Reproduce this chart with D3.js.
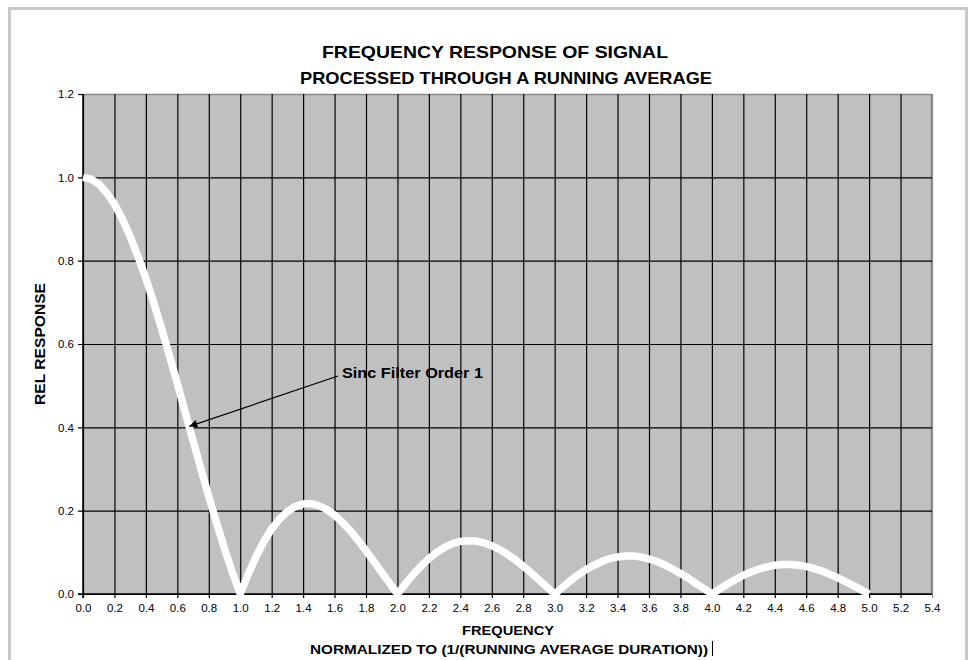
<!DOCTYPE html>
<html><head><meta charset="utf-8">
<script src="https://cdn.jsdelivr.net/npm/d3@7"></script>
<style>
html,body{margin:0;padding:0;background:#fff;}
svg{display:block;font-family:"Liberation Sans",Arial,sans-serif;}
</style></head>
<body>
<svg id="chart" width="972" height="660"></svg>
<script>
const titleLines = ["FREQUENCY RESPONSE OF SIGNAL", "PROCESSED THROUGH A RUNNING AVERAGE"];
const xTitleLines = ["FREQUENCY", "NORMALIZED TO (1/(RUNNING AVERAGE DURATION))"];
const yTitle = "REL RESPONSE";
const annotationText = "Sinc Filter Order 1";
const annotationPoint = [0.67, 0.40];
const xTicks = [0.0,0.2,0.4,0.6,0.8,1.0,1.2,1.4,1.6,1.8,2.0,2.2,2.4,2.6,2.8,3.0,3.2,3.4,3.6,3.8,4.0,4.2,4.4,4.6,4.8,5.0,5.2,5.4];
const yTicks = [0.0,0.2,0.4,0.6,0.8,1.0,1.2];
const frequency = [
 0.00,0.05,0.10,0.15,0.20,0.25,0.30,0.35,0.40,0.45,0.50,0.55,0.60,0.65,0.70,0.75,0.80,0.85,0.90,0.95,
 1.00,1.05,1.10,1.15,1.20,1.25,1.30,1.35,1.40,1.45,1.50,1.55,1.60,1.65,1.70,1.75,1.80,1.85,1.90,1.95,
 2.00,2.05,2.10,2.15,2.20,2.25,2.30,2.35,2.40,2.45,2.50,2.55,2.60,2.65,2.70,2.75,2.80,2.85,2.90,2.95,
 3.00,3.05,3.10,3.15,3.20,3.25,3.30,3.35,3.40,3.45,3.50,3.55,3.60,3.65,3.70,3.75,3.80,3.85,3.90,3.95,
 4.00,4.05,4.10,4.15,4.20,4.25,4.30,4.35,4.40,4.45,4.50,4.55,4.60,4.65,4.70,4.75,4.80,4.85,4.90,4.95,
 5.00];
const response = [
 1.000,0.996,0.984,0.963,0.936,0.900,0.858,0.810,0.757,0.699,0.637,0.572,0.505,0.436,0.368,0.300,0.234,0.170,0.109,0.052,
 0.000,0.047,0.089,0.126,0.156,0.180,0.198,0.210,0.216,0.217,0.212,0.203,0.189,0.172,0.152,0.129,0.104,0.078,0.052,0.026,
 0.000,0.024,0.047,0.067,0.085,0.100,0.112,0.121,0.126,0.128,0.127,0.123,0.116,0.107,0.095,0.082,0.067,0.051,0.034,0.017,
 0.000,0.016,0.032,0.046,0.059,0.069,0.078,0.085,0.089,0.091,0.091,0.089,0.084,0.078,0.070,0.060,0.049,0.038,0.025,0.013,
 0.000,0.012,0.024,0.035,0.045,0.053,0.060,0.065,0.069,0.071,0.071,0.069,0.066,0.061,0.055,0.047,0.039,0.030,0.020,0.010,
 0.000];

const svg = d3.select("#chart");
const M = {left:83, right:932, top:94, bottom:594};

// outer frame
svg.append("rect").attr("x",9.5).attr("y",8.5).attr("width",957).attr("height",680)
  .attr("fill","#fff").attr("stroke","#c8c8c8").attr("stroke-width",3);

const x = d3.scaleLinear().domain([0,5.4]).range([M.left,M.right]);
const y = d3.scaleLinear().domain([0,1.2]).range([M.bottom,M.top]);

// plot background
svg.append("rect").attr("x",M.left).attr("y",M.top).attr("width",M.right-M.left).attr("height",M.bottom-M.top)
  .attr("fill","#c0c0c0");

// border top/right (gray)
svg.append("path").attr("d",`M${M.left},${M.top+0.5}H${M.right-0.5}V${M.bottom}`)
  .attr("fill","none").attr("stroke","#8a8a8a").attr("stroke-width",1.5);

// vertical gridlines + ticks
const gx = svg.append("g").attr("transform",`translate(0,${M.bottom})`)
  .call(d3.axisBottom(x).tickValues(xTicks).tickFormat(d3.format(".1f"))
        .tickSizeInner(-(M.bottom-M.top)).tickSizeOuter(0).tickPadding(10));
gx.select(".domain").remove();
gx.selectAll(".tick line").attr("stroke","#000").attr("stroke-width",1.2)
  .attr("y2",-(M.bottom-M.top)).attr("y1",4);
gx.selectAll(".tick").filter(d=>d===5.4).select("line").attr("stroke","#8a8a8a");
gx.selectAll(".tick text").attr("font-size",11.5).attr("fill","#000").attr("font-family","Liberation Sans, Arial, sans-serif");

// horizontal gridlines + ticks
const gy = svg.append("g").attr("transform",`translate(${M.left},0)`)
  .call(d3.axisLeft(y).tickValues(yTicks).tickFormat(d3.format(".1f"))
        .tickSizeInner(-(M.right-M.left)).tickSizeOuter(0).tickPadding(9));
gy.select(".domain").remove();
gy.selectAll(".tick line").attr("stroke","#000").attr("stroke-width",1.2)
  .attr("x1",-5).attr("x2",M.right-M.left);
gy.selectAll(".tick").filter(d=>d===1.2).select("line").attr("x2",0);
gy.selectAll(".tick text").attr("font-size",11.5).attr("fill","#000").attr("font-family","Liberation Sans, Arial, sans-serif");

// axis lines
svg.append("line").attr("x1",M.left).attr("x2",M.left).attr("y1",M.top).attr("y2",M.bottom+4)
  .attr("stroke","#000").attr("stroke-width",1.5);
svg.append("line").attr("x1",M.left-5).attr("x2",M.right).attr("y1",M.bottom).attr("y2",M.bottom)
  .attr("stroke","#000").attr("stroke-width",1.5);

// series line
const pts = frequency.map((f,i)=>[f,response[i]]);
svg.append("path").datum(pts)
  .attr("d",d3.line().x(d=>x(d[0])).y(d=>y(d[1])))
  .attr("fill","none").attr("stroke","#fff").attr("stroke-width",7.5)
  .attr("stroke-linejoin","miter").attr("stroke-miterlimit",3).attr("stroke-linecap","butt");

// title
svg.append("text").attr("x",495).attr("y",58).attr("text-anchor","middle")
  .attr("font-size",17).attr("font-weight","bold").attr("textLength",346).attr("lengthAdjust","spacingAndGlyphs")
  .text(titleLines[0]);
svg.append("text").attr("x",506).attr("y",84).attr("text-anchor","middle")
  .attr("font-size",17).attr("font-weight","bold").attr("textLength",412).attr("lengthAdjust","spacingAndGlyphs")
  .text(titleLines[1]);

// x title
svg.append("text").attr("x",508).attr("y",635).attr("text-anchor","middle")
  .attr("font-size",13.5).attr("font-weight","bold").attr("textLength",92).attr("lengthAdjust","spacingAndGlyphs")
  .text(xTitleLines[0]);
svg.append("text").attr("x",509).attr("y",654).attr("text-anchor","middle")
  .attr("font-size",13.5).attr("font-weight","bold").attr("textLength",398).attr("lengthAdjust","spacingAndGlyphs")
  .text(xTitleLines[1]);
svg.append("line").attr("x1",712.5).attr("x2",712.5).attr("y1",641).attr("y2",656).attr("stroke","#000").attr("stroke-width",1);

// y title
svg.append("text").attr("transform","translate(45,344) rotate(-90)").attr("text-anchor","middle")
  .attr("font-size",14).attr("font-weight","bold").attr("textLength",122).attr("lengthAdjust","spacingAndGlyphs")
  .text(yTitle);

// annotation
svg.append("defs").append("marker").attr("id","ah").attr("viewBox","0 0 10 10").attr("refX",10).attr("refY",5)
  .attr("markerWidth",10).attr("markerHeight",8).attr("markerUnits","userSpaceOnUse").attr("orient","auto")
  .append("path").attr("d","M0,0L10,5L0,10Z").attr("fill","#000");
svg.append("line").attr("x1",338).attr("y1",376).attr("x2",x(annotationPoint[0])+1).attr("y2",y(annotationPoint[1])-1)
  .attr("stroke","#000").attr("stroke-width",1.2).attr("marker-end","url(#ah)");
svg.append("text").attr("x",342).attr("y",378).attr("font-size",14).attr("font-weight","bold")
  .attr("textLength",141).attr("lengthAdjust","spacingAndGlyphs").text(annotationText);
</script>
</body></html>
